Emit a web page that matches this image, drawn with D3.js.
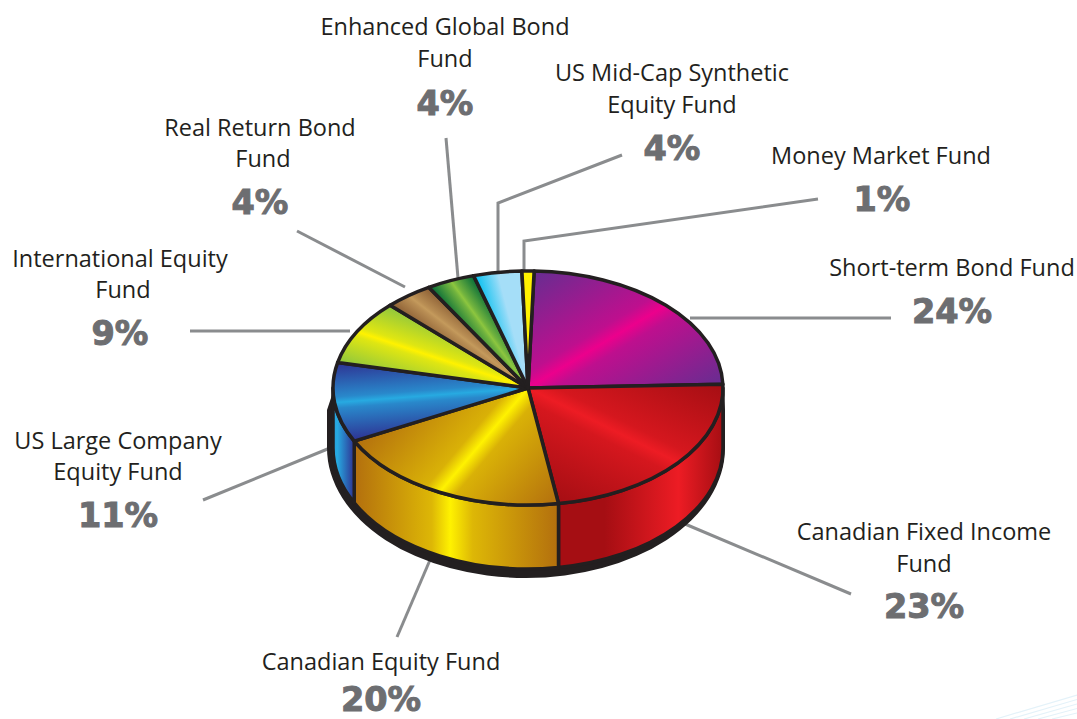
<!DOCTYPE html>
<html>
<head>
<meta charset="utf-8">
<script src="https://cdn.jsdelivr.net/npm/d3@7/dist/d3.min.js"></script>
<style>
html,body{margin:0;padding:0;background:#fff;overflow:hidden}
svg{display:block}
.name{font-family:"Open Sans",sans-serif;font-size:23.5px;fill:#231f20;text-anchor:middle}
.pct{font-family:"DejaVu Sans",sans-serif;font-weight:700;font-size:33.5px;fill:#6d6e71;stroke:#6d6e71;stroke-width:1;text-anchor:middle}
</style>
</head>
<body>
<svg id="chart" width="1077" height="719"></svg>
<script>
// Fund allocation, clockwise from the top of the pie
const categories = [
  "Short-term Bond Fund", "Canadian Fixed Income Fund", "Canadian Equity Fund",
  "US Large Company Equity Fund", "International Equity Fund", "Real Return Bond Fund",
  "Enhanced Global Bond Fund", "US Mid-Cap Synthetic Equity Fund", "Money Market Fund"
];
const shares = [24, 23, 20, 11, 9, 4, 4, 4, 1];

// Metallic ramp for each slice: edge, highlight, other edge
const ramps = [
  ["#662d91", "#ec008c", "#662d91"],
  ["#a50e13", "#ed1c24", "#a50e13"],
  ["#b36f0e", "#fff200", "#b36f0e"],
  ["#2e3192", "#27aae1", "#2e3192"],
  ["#8dc63f", "#fff200", "#8dc63f"],
  ["#8b5e34", "#c49a5c", "#8b5e34"],
  ["#006838", "#8dc63f", "#006838"],
  ["#00bfef", "#a5def8", "#a5def8"],
  ["#fff200", "#fff200", "#fff200"]
];
// How far the ramp has climbed just before the highlight; the gold slice peaks sharply
const shoulderMix = [0.66, 0.66, 0.5, 0.72, 0.72, 0.8, 0.8, 0.84, 0.84];

// Where the highlight falls along each visible wall, as [offset, ramp mix]
const wallStops = {
  1: [[0, 0], [0.27, 1], [0.72, 0], [1, 0]],
  2: [[0, 0], [0.42, 0.55], [0.53, 1], [0.62, 0.55], [1, 0]],
  3: [[0, 0], [0.8, 1], [1, 0.9]]
};

// Callout text blocks and their leader lines
const callouts = [
  {i:0, lines:[["Short-term Bond Fund",952,276]], pct:[952,323], lead:[[690,318],[891,318]]},
  {i:1, lines:[["Canadian Fixed Income",924,540],["Fund",924,572]], pct:[924,618], lead:[[685,524],[851,594]]},
  {i:2, lines:[["Canadian Equity Fund",381,670]], pct:[381,711], lead:[[430,560],[397,637]]},
  {i:3, lines:[["US Large Company",118,449],["Equity Fund",118,480]], pct:[118,527], lead:[[330,448],[203,500]]},
  {i:4, lines:[["International Equity",120,267],["Fund",123,298]], pct:[120,345], lead:[[350,331],[190,331]]},
  {i:5, lines:[["Real Return Bond",260,136],["Fund",263,167]], pct:[260,214], lead:[[405,287],[297,231]]},
  {i:6, lines:[["Enhanced Global Bond",445,35],["Fund",445,67]], pct:[445,115], lead:[[458,278],[446,138]]},
  {i:7, lines:[["US Mid-Cap Synthetic",672,81],["Equity Fund",672,113]], pct:[672,160], lead:[[498,272],[498,203],[622,155]]},
  {i:8, lines:[["Money Market Fund",881,164]], pct:[882,211], lead:[[524,272],[524,241],[818,199]]}
];

const cx = 528, cy = 388, rx = 195, ry = 117;
const wallDrop = 60, wallRy = 121;
const ink = "#231f20";
const svg = d3.select("#chart");
const defs = svg.append("defs");

const start = 1.8 * Math.PI / 180;
const arcs = d3.pie().sort(null).value(d => d).startAngle(start).endAngle(start + 2 * Math.PI)(shares);

const pt = a => [cx + rx * Math.sin(a), cy - ry * Math.cos(a)];
const wallPt = a => [cx + rx * Math.sin(a), cy + wallDrop - wallRy * Math.cos(a)];

// Faint sweep of lines in the lower right corner
const sweep = d3.range(0, 5);
svg.append("g").selectAll("line").data(sweep).join("line")
  .attr("x1", d => 996 + d * 14).attr("y1", 719)
  .attr("x2", 1077).attr("y2", d => 695 + d * 4.5)
  .attr("stroke", "#e4f2f9").attr("stroke-width", 1.2);

// Leader lines sit underneath the pie
svg.append("g").selectAll("polyline").data(callouts).join("polyline")
  .attr("points", d => d.lead.map(p => p.join(",")).join(" "))
  .attr("fill", "none").attr("stroke", "#8a8c8e").attr("stroke-width", 3);

// Dark base peeking out under the wall; its shoulders stay hidden behind the rim
const baseCx = 526, baseRx = 199, baseRy = 130, baseTop = 22;
svg.append("path")
  .attr("d", `M${cx},${cy + 20} L${cx - rx},${cy + 4}
    L${baseCx - baseRx},${cy + baseTop} L${baseCx - baseRx},${cy + wallDrop}
    A${baseRx},${baseRy} 0 0 0 ${baseCx + baseRx},${cy + wallDrop}
    L${baseCx + baseRx},${cy + baseTop} L${cx + rx},${cy + 4} Z`)
  .attr("fill", ink);

// Front wall: only the part of each slice between 3 and 9 o'clock shows
const wallRange = [Math.PI / 2, 3 * Math.PI / 2];
const wallG = svg.append("g");
const walls = arcs.map((d, i) => ({
  i, a0: Math.max(d.startAngle, wallRange[0]), a1: Math.min(d.endAngle, wallRange[1])
})).filter(w => w.a1 > w.a0);

walls.forEach(w => {
  const id = "wall" + w.i;
  const g = defs.append("linearGradient").attr("id", id)
    .attr("gradientUnits", "userSpaceOnUse")
    .attr("x1", pt(w.a0)[0]).attr("x2", pt(w.a1)[0]).attr("y1", 0).attr("y2", 0);
  const tint = d3.interpolateRgb(ramps[w.i][0], ramps[w.i][1]);
  wallStops[w.i].forEach(([offset, mix]) => {
    g.append("stop").attr("offset", offset).attr("stop-color", tint(mix));
  });
  const t0 = pt(w.a0), t1 = pt(w.a1), b0 = wallPt(w.a0), b1 = wallPt(w.a1);
  wallG.append("path")
    .attr("d", `M${t0} A${rx},${ry} 0 0 1 ${t1} L${b1} A${rx},${wallRy} 0 0 0 ${b0} Z`)
    .attr("fill", `url(#${id})`).attr("stroke", ink).attr("stroke-width", 3.5)
    .attr("stroke-linejoin", "round");
});

// Top face: each slice gets a sheen running along its bisector
const faceG = svg.append("g");
arcs.forEach((d, i) => {
  const mid = (d.startAngle + d.endAngle) / 2;
  const m = pt(mid), dir = [m[0] - cx, m[1] - cy];
  const len = Math.hypot(dir[0], dir[1]);
  const n = [-dir[1] / len, dir[0] / len];
  const p0 = pt(d.startAngle), p1 = pt(d.endAngle);
  const reach = Math.max(
    Math.abs((p0[0] - cx) * n[0] + (p0[1] - cy) * n[1]),
    Math.abs((p1[0] - cx) * n[0] + (p1[1] - cy) * n[1])
  );
  const id = "face" + i;
  const g = defs.append("linearGradient").attr("id", id)
    .attr("gradientUnits", "userSpaceOnUse")
    .attr("x1", cx - n[0] * reach).attr("y1", cy - n[1] * reach)
    .attr("x2", cx + n[0] * reach).attr("y2", cy + n[1] * reach);
  const r = ramps[i];
  const left = d3.interpolateRgb(r[0], r[1]), right = d3.interpolateRgb(r[2], r[1]);
  g.append("stop").attr("offset", 0).attr("stop-color", r[0]);
  g.append("stop").attr("offset", 0.43).attr("stop-color", left(shoulderMix[i]));
  g.append("stop").attr("offset", 0.5).attr("stop-color", r[1]);
  g.append("stop").attr("offset", 0.57).attr("stop-color", right(shoulderMix[i]));
  g.append("stop").attr("offset", 1).attr("stop-color", r[2]);
  const large = d.endAngle - d.startAngle > Math.PI ? 1 : 0;
  faceG.append("path")
    .attr("d", `M${cx},${cy} L${p0} A${rx},${ry} 0 ${large} 1 ${p1} Z`)
    .attr("fill", `url(#${id})`).attr("stroke", ink).attr("stroke-width", 3.5)
    .attr("stroke-linejoin", "round");
});

// Callout text
const labelG = svg.append("g");
callouts.forEach(c => {
  c.lines.forEach(([t, x, y]) => {
    labelG.append("text").attr("class", "name").attr("x", x).attr("y", y).text(t);
  });
  labelG.append("text").attr("class", "pct").attr("x", c.pct[0]).attr("y", c.pct[1])
    .text(shares[c.i] + "%");
});
</script>
</body>
</html>
